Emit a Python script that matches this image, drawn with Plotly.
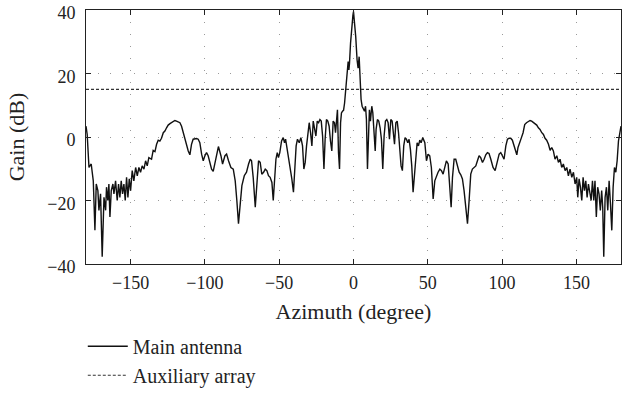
import plotly.graph_objects as go

# Main antenna pattern (azimuth in degree, gain in dB)
az = [-180, -179.2, -178.0, -176.5, -175.1, -174.0, -173.1, -172.0, -171.3, -170.2,
      -169.1, -167.9, -166.8, -166.2, -165.3, -164.6, -163.9, -163.0, -161.9, -161.2,
      -160.1, -159.0, -158.1, -157.2, -156.3, -155.4, -154.5, -153.6, -152.7, -151.8,
      -150.9, -150.0, -148.9, -147.8, -146.6, -145.5, -144.4, -143.3, -142.2, -141.0,
      -139.9, -138.8, -137.7,
      -135.9, -134.8, -133.6, -132.5, -131.4, -130.3, -129.2, -128.0, -126.9, -125.8,
      -124.7, -123.5, -122.4, -121.3, -120.2, -119.1, -117.9, -116.8, -115.7, -114.6,
      -113.5, -112.3, -111.2, -110.1, -109.0, -107.9, -106.7, -105.6, -104.5, -103.4,
      -102.2, -101.1, -100.0, -98.9, -97.8, -96.6, -95.5, -94.4, -93.3, -92.2,
      -90.9, -89.2, -88.1, -86.5, -85.4, -84.1, -82.5, -80.9, -79.6, -78.5,
      -77.4, -76.2, -75.1, -73.5, -72.0, -70.6, -69.5, -68.6, -67.5, -66.1,
      -65.2, -63.9, -62.8, -61.7, -60.5, -59.4, -58.3, -57.2, -56.1, -54.9,
      -54.0, -53.1, -52.2, -51.3, -50.5, -49.6, -48.4, -47.3,
      -46.4, -45.7, -44.8, -43.7, -42.6, -41.5, -40.4, -39.2, -38.6, -37.7,
      -36.5, -35.4, -34.3, -33.4, -32.5, -31.6, -30.7, -29.8, -28.9, -28.0,
      -27.1, -26.2, -25.3, -24.4, -23.5, -22.6, -21.7, -20.8, -19.9, -19.1,
      -18.2, -17.3, -16.4, -15.5, -14.6, -13.7, -12.8, -12.1, -11.4, -10.8,
      -10.1, -9.4, -8.7, -8.1, -7.4, -6.7, -6.0, -5.2, -4.3, -3.6,
      -3.1, -2.7, -2.0, -1.1, -0.4,
      0, 0.65, 1.5, 2.4, 3.1, 3.8, 4.5, 5.1, 5.8, 6.7,
      7.4, 8.1, 8.7, 9.4, 10.1, 10.7, 11.4, 12.3, 13.0, 13.9,
      14.6, 15.2, 16.1, 17.0, 17.9, 18.8, 19.7, 20.6, 21.5, 22.4,
      23.3, 24.2, 25.1, 26.0, 26.9, 27.6, 28.5, 29.4, 30.3, 31.1,
      32.0, 32.9, 33.8, 34.7, 35.6, 36.5, 37.4, 38.3, 39.2, 40.1,
      41.0, 41.9, 42.8, 43.7, 44.6, 45.5, 46.6,
      48.0, 49.1, 50.2, 51.3, 52.4, 53.6, 54.7, 55.8, 56.9, 58.1,
      59.2, 60.3, 61.4, 62.5, 63.7, 64.8, 65.7, 66.6, 67.7, 68.8,
      69.9, 71.1, 72.2, 73.3, 74.4, 75.5, 76.7, 77.8, 78.9, 80.0,
      81.1, 82.3, 83.4, 84.5, 85.6, 86.8, 87.9, 89.0, 90.1,
      91.2, 92.4, 93.9, 95.3, 96.6, 98.0, 99.1, 100.2, 101.3, 102.5,
      103.6, 104.7, 105.8, 106.9, 108.1, 109.2, 109.9, 110.7, 111.9, 113.0,
      114.1, 115.2, 116.4, 117.7, 118.8, 119.9, 121.1, 122.2, 123.3, 124.4,
      125.5, 126.7, 127.8, 128.9, 130.0, 131.2, 132.3,
      133.4, 134.5, 135.6, 136.8, 137.9, 139.0, 140.1, 141.2, 142.4, 143.5,
      144.6, 145.7, 146.9, 148.0, 149.1, 150.2, 150.9, 151.8, 152.7, 153.6,
      154.5, 155.4, 156.3, 157.2, 158.1, 159.0, 159.9, 160.8, 161.7, 162.5,
      163.4, 164.3, 165.2, 166.1, 167.0, 167.7, 168.4, 169.3, 170.2, 171.1,
      172.0, 172.9, 173.8, 174.7, 175.6, 176.5, 177.4, 178.3, 179.4, 180]

gain = [3.4, 0.8, -9.6, -8.5, -13.8, -29.4, -14.8, -16.9, -23.1, -17.9,
        -37.7, -19.0, -23.1, -15.8, -20.0, -14.8, -25.2, -16.9, -14.8, -17.9,
        -13.8, -20.0, -14.8, -19.0, -13.8, -17.9, -14.8, -20.0, -12.7, -19.0,
        -13.2, -16.9, -10.6, -13.8, -9.6, -12.2, -9.6, -11.1, -9.1, -10.1,
        -7.5, -9.1, -6.5,
        -7.0, -4.2, -4.6, -2.3, -1.0, -1.3, -0.4, 1.35, 1.9, 2.9,
        3.75, 4.2, 4.5, 4.8, 5.2, 5.0, 4.8, 4.5, 3.4, 1.35,
        -0.7, -2.3, -4.4, -5.6, -2.3, -0.7, -0.5, -0.5, -0.7, -1.8,
        -5.4, -7.5, -5.9, -4.9, -5.9, -8.0, -10.1, -10.8, -8.6, -5.5,
        -3.0, -5.9, -8.5, -5.9, -5.4, -7.5, -9.6, -10.1, -13.8, -20.0,
        -27.3, -21.0, -15.3, -12.2, -11.1, -8.5, -7.0, -7.5, -12.7, -22.1,
        -14.8, -7.5, -8.0, -11.7, -11.1, -10.1, -10.6, -12.2, -12.7, -14.3,
        -20.0, -13.8, -7.0, -4.9, -6.5, -4.9, -1.25, -0.2,
        -1.8, -0.7, -3.3, -5.9, -9.1, -13.2, -17.4, -9.1, -2.8, -0.7,
        -1.8, -0.2, -2.8, -10.1, -8.0, -2.8, 1.9, 4.5, 1.35, -2.8,
        5.0, 2.4, 0.3, 5.0, 4.5, 5.5, 5.0, 0.3, -10.1, -0.7,
        5.5, 5.0, 3.4, -1.25, -4.4, 5.0, 4.5, 1.35, 6.6, 8.6,
        -4.9, -10.1, 4.5, 7.6, 8.1, 8.4, 10.7, 15.9, 22.2, 23.8,
        21.1, 23.2, 29.5, 35.7, 38.3,
        39.5, 36.8, 31.6, 24.3, 21.7, 25.3, 17.0, 11.8, 9.7, 8.6,
        8.1, 9.7, 5.5, -10.1, 3.4, 8.6, 5.0, 9.7, 7.6, 1.35,
        -4.4, 2.4, 5.5, 5.0, 2.9, -0.7, -10.1, 0.3, 5.0, 5.5,
        4.5, -0.7, 5.5, 5.0, -0.7, -2.3, 4.5, 5.0, 1.35, -4.9,
        -9.1, -10.6, -2.8, -0.2, -0.7, -1.8, -0.7, -3.9, -9.1, -17.4,
        -11.2, -5.9, -1.8, -2.8, -1.0, -1.8, -0.2,
        -1.8, -7.5, -5.4, -5.9, -9.6, -19.5, -13.8, -12.2, -11.1, -10.1,
        -10.6, -11.7, -9.6, -7.5, -8.5, -14.8, -22.1, -12.7, -7.0, -7.0,
        -9.1, -11.1, -11.9, -13.2, -16.9, -21.0, -27.3, -20.0, -11.7, -10.1,
        -9.6, -9.1, -7.5, -5.9, -6.5, -8.0, -7.0, -5.6, -4.9,
        -5.2, -7.0, -9.6, -10.6, -8.0, -5.4, -4.9, -5.9, -7.0, -2.8,
        -0.7, -0.4, -0.4, -1.0, -2.8, -4.9, -5.6, -3.3, -1.25, -0.2,
        1.35, 3.9, 4.5, 4.8, 5.2, 5.0, 4.5, 4.0, 3.75, 2.9,
        2.4, 1.35, 0.8, -0.4, -1.0, -2.3, -4.2,
        -3.3, -4.4, -7.0, -5.9, -8.0, -7.0, -9.6, -8.5, -10.6, -9.6,
        -12.2, -10.1, -12.7, -11.1, -14.8, -12.7, -19.0, -13.2, -15.8, -20.0,
        -12.7, -16.9, -13.8, -19.0, -14.8, -17.9, -20.0, -13.8, -20.0, -13.8,
        -25.2, -15.8, -17.9, -23.1, -16.9, -22.1, -37.7, -19.0, -15.8, -23.1,
        -13.8, -21.0, -29.4, -15.8, -9.6, -11.1, -7.5, -1.25, 2.4, 3.4]

# Auxiliary array level (dB)
aux_az = [-180, 180]
aux_gain = [15, 15]

x_ticks = [-150, -100, -50, 0, 50, 100, 150]
y_ticks = [-40, -20, 0, 20, 40]

fig = go.Figure()
fig.add_trace(go.Scatter(x=az, y=gain, mode="lines", name="Main antenna",
                         legendgroup="a",
                         line=dict(color="#111111", width=1.4)))
fig.add_trace(go.Scatter(x=aux_az, y=aux_gain, mode="lines", name="Auxiliary array",
                         legendgroup="b",
                         line=dict(color="#333333", width=1.2, dash="3px,2px")))

axis_common = dict(
    showline=True, linecolor="#222222", linewidth=1, mirror="ticks",
    ticks="inside", ticklen=5, tickcolor="#222222", tickwidth=1,
    showgrid=True, gridcolor="#9a9a9a", gridwidth=1, griddash="1px,11px",
    zeroline=False, ticklabeloverflow="allow", automargin=False,
)

fig.update_xaxes(range=[-180, 180], tickvals=x_ticks,
                 title=dict(text="Azimuth (degree)", standoff=12),
                 ticklabelstandoff=2, **axis_common)
fig.update_yaxes(range=[-40, 40], tickvals=y_ticks,
                 title=dict(text="Gain (dB)", standoff=16),
                 ticklabelstandoff=6, ticklabelshift=3, **axis_common)

fig.update_layout(
    width=631, height=393,
    margin=dict(l=86, r=10, t=10, b=129, autoexpand=False),
    plot_bgcolor="white", paper_bgcolor="white",
    font=dict(family="Liberation Serif", size=18, color="#222222"),
    showlegend=True,
    legend=dict(x=-0.006, y=-0.247, xanchor="left", yanchor="top",
                bgcolor="rgba(0,0,0,0)", itemwidth=40, tracegroupgap=0,
                font=dict(size=20)),
)

fig.write_html("out.html")
